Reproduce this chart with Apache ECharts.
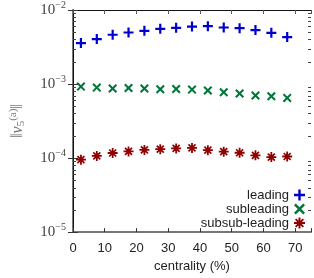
<!DOCTYPE html>
<html><head><meta charset="utf-8">
<script src="https://cdn.jsdelivr.net/npm/echarts@6/dist/echarts.min.js"></script>
<style>html,body{margin:0;padding:0;background:#fff}#c{width:314px;height:278px}</style>
</head><body><div id="c"></div>
<script>
const centrality = [2.5, 7.5, 12.5, 17.5, 22.5, 27.5, 32.5, 37.5, 42.5, 47.5, 52.5, 57.5, 62.5, 67.5];
const leading = [3.58e-3, 4.05e-3, 4.63e-3, 4.97e-3, 5.24e-3, 5.57e-3, 5.74e-3, 5.98e-3, 6.05e-3, 5.80e-3, 5.69e-3, 5.35e-3, 4.92e-3, 4.31e-3];
const subleading = [9.23e-4, 8.95e-4, 8.68e-4, 8.84e-4, 8.68e-4, 8.49e-4, 8.57e-4, 8.41e-4, 8.16e-4, 7.74e-4, 7.44e-4, 7.00e-4, 6.85e-4, 6.50e-4];
const subsubLeading = [9.52e-5, 1.07e-4, 1.17e-4, 1.23e-4, 1.29e-4, 1.32e-4, 1.35e-4, 1.37e-4, 1.28e-4, 1.22e-4, 1.18e-4, 1.09e-4, 1.03e-4, 1.05e-4];
const seriesNames = ['leading', 'subleading', 'subsub-leading'];
const xTicks = [0, 10, 20, 30, 40, 50, 60, 70];
const yDecades = [-5, -4, -3, -2];
const minorMultipliers = [2, 3, 4, 5, 6, 7, 8, 9];

const X_MIN = 0, X_MAX = 75;
const minorTickValues = [];
for (let i = 0; i < yDecades.length - 1; i++) {
  for (const m of minorMultipliers) minorTickValues.push([X_MIN, m * Math.pow(10, yDecades[i])]);
}

const plusPath = 'path://M-1.1,-5H1.1V-1.1H5V1.1H1.1V5H-1.1V1.1H-5V-1.1H-1.1Z';
const crossPath = 'path://M-3.3,-4.9L4.9,3.3L3.3,4.9L-4.9,-3.3Z M4.9,-3.3L-3.3,4.9L-4.9,3.3L3.3,-4.9Z';
const starPath = 'path://M-0.9,-5H0.9V5H-0.9Z M-5,-0.9H5V0.9H-5Z M-2.9,-4.1L4.1,2.9L2.9,4.1L-4.1,-2.9Z M4.1,-2.9L-2.9,4.1L-4.1,2.9L2.9,-4.1Z';

const colors = ['#0000cc', '#00773a', '#8f0000'];
const serif = 'Liberation Serif';
const sans = 'Liberation Sans';

const chart = echarts.init(document.getElementById('c'), null, {renderer: 'canvas'});
const mk = arr => centrality.map((c, i) => [c, arr[i]]);

chart.setOption({
  animation: false,
  backgroundColor: '#fff',
  grid: {left: 68, top: 10, right: 2, bottom: 44},
  legend: {
    data: seriesNames,
    orient: 'vertical',
    right: 9,
    top: 188,
    align: 'right',
    itemWidth: 11,
    itemHeight: 11,
    itemGap: 0,
    padding: 0,
    textStyle: {fontFamily: sans, fontSize: 13, lineHeight: 14, color: '#222'}
  },
  xAxis: [{
    type: 'value', min: X_MIN, max: X_MAX, interval: 10,
    position: 'bottom',
    name: 'centrality (%)', nameLocation: 'middle', nameGap: 24,
    nameTextStyle: {fontFamily: sans, fontSize: 13, color: '#222'},
    axisLine: {show: true, lineStyle: {color: '#777', width: 2}},
    axisTick: {inside: true, length: 4, lineStyle: {color: '#333'}},
    axisLabel: {fontFamily: sans, fontSize: 13, color: '#222', margin: 10,
      formatter: v => xTicks.includes(v) ? String(v) : ''},
    splitLine: {show: false}
  }, {
    type: 'value', min: X_MIN, max: X_MAX, interval: 10,
    position: 'top',
    axisLine: {show: true, lineStyle: {color: '#111', width: 1}},
    axisTick: {inside: true, length: 4, lineStyle: {color: '#555'}},
    axisLabel: {show: false},
    splitLine: {show: false}
  }],
  yAxis: [{
    type: 'log', logBase: 10, min: 1e-5, max: 1e-2,
    position: 'left',
    name: '{n|‖}{v|v}{s|5}{p|(a)}{n|‖}', nameLocation: 'middle', nameGap: 46, nameRotate: 90,
    nameTextStyle: {
      color: '#777',
      rich: {
        n: {fontFamily: serif, fontSize: 16, color: '#777'},
        v: {fontFamily: serif, fontSize: 16, fontStyle: 'italic', color: '#777'},
        s: {fontFamily: serif, fontSize: 11, color: '#777', verticalAlign: 'bottom', padding: [8, 0, 0, 0]},
        p: {fontFamily: serif, fontSize: 11, color: '#777', verticalAlign: 'top', padding: [0, 0, 8, 0]}
      }
    },
    axisLine: {show: true, lineStyle: {color: '#777', width: 2}},
    axisTick: {inside: true, length: 5, lineStyle: {color: '#333'}},
    axisLabel: {
      margin: 7,
      formatter: v => '{b|10}{e|' + Math.round(Math.log10(v)).toString().replace('-', '−') + '}',
      rich: {
        b: {fontFamily: serif, fontSize: 15, color: '#444'},
        e: {fontFamily: serif, fontSize: 10, color: '#444', verticalAlign: 'top', padding: [0, 0, 9, 0]}
      }
    },
    splitLine: {show: false}
  }, {
    type: 'log', logBase: 10, min: 1e-5, max: 1e-2,
    position: 'right',
    axisLine: {show: true, lineStyle: {color: '#111', width: 1}},
    axisTick: {inside: true, length: 5, lineStyle: {color: '#333'}},
    axisLabel: {show: false},
    splitLine: {show: false}
  }],
  series: [{
    name: seriesNames[0], type: 'scatter', data: mk(leading),
    symbol: plusPath, symbolSize: 10, itemStyle: {color: colors[0], opacity: 1}
  }, {
    name: seriesNames[1], type: 'scatter', data: mk(subleading),
    symbol: crossPath, symbolSize: 9, itemStyle: {color: colors[1], opacity: 1}
  }, {
    name: seriesNames[2], type: 'scatter', data: mk(subsubLeading),
    symbol: starPath, symbolSize: 10, itemStyle: {color: colors[2], opacity: 1}
  }, {
    name: 'minorTicks', type: 'custom', data: minorTickValues, silent: true, clip: false,
    renderItem: (params, api) => {
      const v = api.value(1);
      const l = api.coord([X_MIN, v]);
      const r = api.coord([X_MAX, v]);
      const st = {stroke: '#444', lineWidth: 1};
      return {type: 'group', children: [
        {type: 'line', shape: {x1: l[0], y1: Math.round(l[1]) + 0.5, x2: l[0] + 3, y2: Math.round(l[1]) + 0.5}, style: st},
        {type: 'line', shape: {x1: r[0], y1: Math.round(r[1]) + 0.5, x2: r[0] - 3, y2: Math.round(r[1]) + 0.5}, style: st}
      ]};
    }
  }]
});
</script></body></html>
